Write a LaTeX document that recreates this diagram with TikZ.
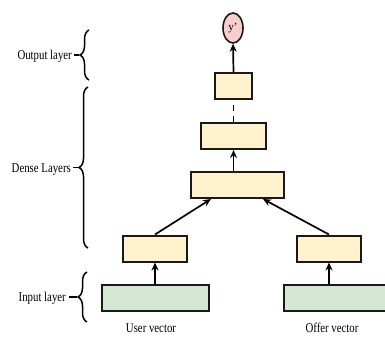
\documentclass[tikz,border=0pt]{standalone}
\usepackage{fontspec}
\setmainfont{Liberation Serif}
\usetikzlibrary{arrows.meta,decorations.pathreplacing,calc,shapes.geometric}
\definecolor{dense}{HTML}{FFF2CC}
\definecolor{inp}{HTML}{D5E8D4}
\definecolor{outc}{HTML}{F8CECC}
\tikzset{
  box/.style={draw=black!90, line width=2pt, minimum height=26pt, inner sep=0pt},
  dbox/.style={box, fill=dense},
  gbox/.style={box, fill=inp},
  arr/.style={line width=1.7pt, -{Stealth[length=8pt,width=7pt]}},
  lbl/.style={font=\fontsize{12}{13}\selectfont, xscale=0.9, yscale=1.12, inner sep=0pt},
  brc/.style={line width=1.5pt, decorate, decoration={brace, amplitude=9pt}},
}
\begin{document}
\begin{tikzpicture}[x=1pt,y=-1pt]
\useasboundingbox (0,0) rectangle (385,345);
% nodes
\node[draw=black!90, line width=1.6pt, fill=outc, ellipse, minimum width=20pt, minimum height=30pt, inner sep=0pt] (y) at (233,28) {\fontsize{11}{12}\selectfont y'};
\node[dbox, minimum width=37pt] (d1) at (233.5,86) {};
\node[dbox, minimum width=65pt] (d2) at (233.5,136) {};
\node[dbox, minimum width=93pt] (d3) at (237.5,185) {};
\node[dbox, minimum width=64pt] (uL) at (155,248.5) {};
\node[dbox, minimum width=64pt] (uR) at (329,248.5) {};
\node[gbox, minimum width=107pt] (gL) at (155.5,298) {};
\node[gbox, minimum width=105pt] (gR) at (336,298) {};
\node[lbl] (tu) at (151,328) {User vector};
\node[lbl] (to) at (332,328) {Offer vector};
% connectors
\draw[arr] (gL.north -| uL.south) -- (uL.south);
\draw[arr] (gR.north -| uR.south) -- (uR.south);
\draw[arr] (uL.north) -- ($(d3.south west)+(21,0)$);
\draw[arr] (uR.north) -- ($(d3.south east)+(-22,0)$);
\draw[arr] (d3.north -| d2.south) -- (d2.south);
\draw[line width=1.6pt, dash pattern=on 6pt off 5pt] (d2.north) -- (d1.south);
\draw[arr] (d1.north) -- (y.south);
% braces
\coordinate (o1) at (89,80); \coordinate (o2) at (89,30);
\coordinate (m1) at (88,248); \coordinate (m2) at (88,87);
\coordinate (i1) at (87,322); \coordinate (i2) at (87,272);
\draw[brc] (o1) -- (o2);
\draw[brc] (m1) -- (m2);
\draw[brc] (i1) -- (i2);
\coordinate (ot) at (79,55); \coordinate (mt) at (78,167.5); \coordinate (it) at (77,297);
\draw[line width=1.7pt] (ot) -- ++(-5,0) coordinate (ol);
\draw[line width=1.7pt] (mt) -- ++(-5,0) coordinate (ml);
\draw[line width=1.7pt] (it) -- ++(-8,0) coordinate (il);
\node[lbl, anchor=east] (lo) at ($(ol)+(-2,1)$) {Output layer};
\node[lbl, anchor=east] (ld) at ($(ml)+(-2,2)$) {Dense Layers};
\node[lbl, anchor=east] (li) at ($(il)+(-3,1)$) {Input layer};
\end{tikzpicture}
\end{document}
